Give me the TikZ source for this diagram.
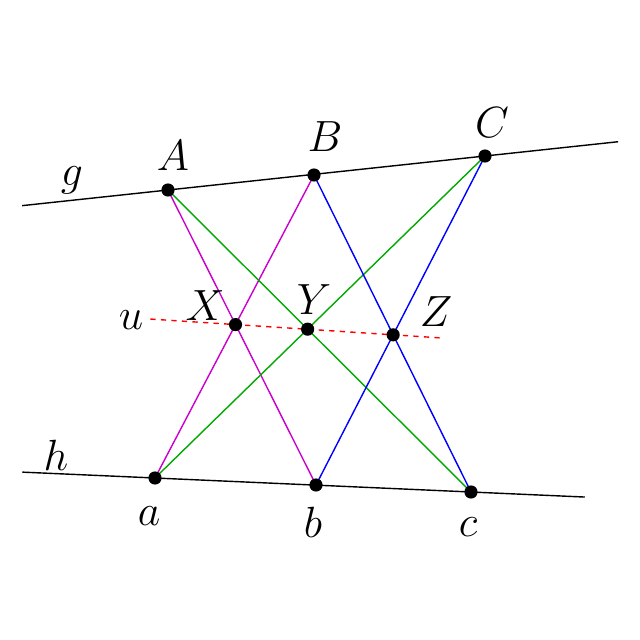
\documentclass[tikz,border=0pt]{standalone}
\usetikzlibrary{calc}
\definecolor{pmag}{RGB}{204,0,204}
\definecolor{pgrn}{RGB}{0,170,0}
\tikzset{
  pt/.style={circle, fill, inner sep=0pt, minimum size=7.5pt},
  lbl/.style={font=\Huge},
  magline/.style={pmag, thick},
  grnline/.style={pgrn, thick},
  bluline/.style={blue, thick}
  }
\begin{document}
\begin{tikzpicture}[x=0.02cm, y=-0.02cm]
	\useasboundingbox (0,-3) rectangle (640,637);
	% Points on the two lines
	\coordinate (A) at (168,187);
	\coordinate (B) at (314,172);
	\coordinate (C) at (485,153);
	\coordinate (a) at (155,475);
	\coordinate (b) at (316,482);
	\coordinate (c) at (471,489);
	\coordinate (X) at (intersection of A--b and B--a);
	\coordinate (Y) at (intersection of A--c and C--a);
	\coordinate (Z) at (intersection of B--c and C--b);

	% Lines g and h
	\draw[thick] ($(A)!-0.46!(C)$) -- ($(A)!1.42!(C)$);
	\draw[thick] ($(a)!-0.42!(c)$) -- ($(a)!1.36!(c)$);
	\draw[red, dashed, thick] ($(X)!-0.54!(Z)$) -- ($(X)!1.31!(Z)$);

	% Cross lines
	\draw[magline] (A) -- (b);
	\draw[magline] (a) -- (B);
	\draw[grnline] (A) -- (c);
	\draw[grnline] (a) -- (C);
	\draw[bluline] (B) -- (c);
	\draw[bluline] (b) -- (C);

	% Dots
	\foreach \p in {A,B,C,a,b,c,X,Y,Z}
		\node[pt] at (\p) {};

	% Labels
	\node[lbl] (lg) at (72,177) {$g$};
	\node[lbl] (lh) at (56,452) {$h$};
	\node[lbl] (lu) at (131,317) {$u$};
	\node[lbl] (lA) at (173,153) {$A$};
	\node[lbl] (lB) at (325,134) {$B$};
	\node[lbl] (lC) at (492,120) {$C$};
	\node[lbl] (lX) at (205,303) {$X$};
	\node[lbl] (lY) at (314,297) {$Y$};
	\node[lbl] (lZ) at (436,309) {$Z$};
	\node[lbl] (la) at (149,513) {$a$};
	\node[lbl] (lb) at (313,519) {$b$};
	\node[lbl] (lc) at (468,524) {$c$};
\end{tikzpicture}
\end{document}
